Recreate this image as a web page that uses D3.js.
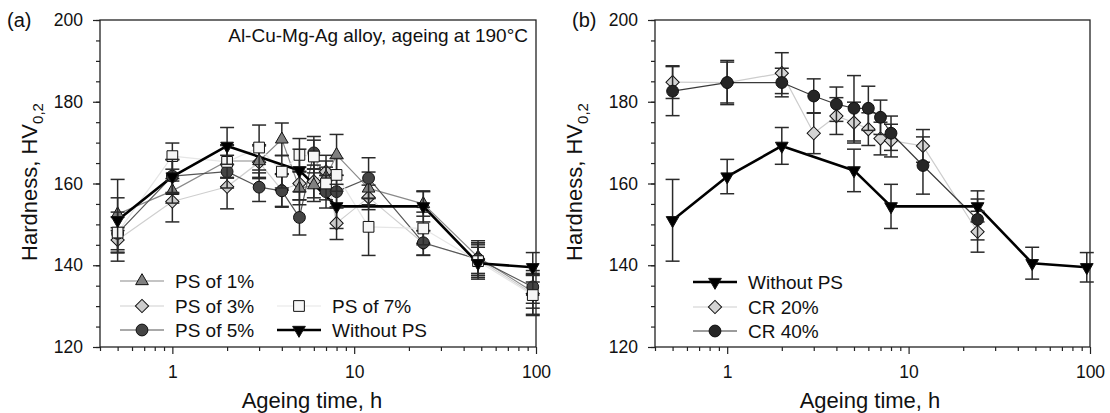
<!DOCTYPE html>
<html>
<head>
<meta charset="utf-8">
<script src="https://cdn.jsdelivr.net/npm/d3@7/dist/d3.min.js"></script>
<style>
  body { margin: 0; background: #fff; }
  text { font-family: "Liberation Sans", Arial, sans-serif; fill: #111; }
</style>
</head>
<body>
<svg id="chart" width="1110" height="413"></svg>
<script>
// ageing times (h)
var timesPS = [0.5, 1, 2, 3, 4, 5, 6, 7, 8, 12, 24, 48, 96];
var timesRef = [0.5, 1, 2, 5, 8, 24, 48, 96];
var timesCR = [0.5, 1, 2, 3, 4, 5, 6, 7, 8, 12, 24];

// hardness HV0,2 and error (+/-)
var ps1 = [152.5, 158.2, 165.5, 165.5, 170.8, 158.8, 159.6, 161.5, 167.0, 158.8, 155.0, 142.0, 133.5];
var ps1Err = [4, 3, 4, 4, 4, 4, 4, 4, 5, 4, 3, 4, 4];
var ps3 = [146.2, 155.6, 159.2, 165.2, 158.4, 160.0, 160.5, 162.9, 150.3, 156.6, 145.4, 141.5, 133.0];
var ps3Err = [3, 5, 5.4, 4, 4, 4, 4, 4, 4, 3, 3, 4, 5];
var ps5 = [147.8, 161.8, 162.9, 159.1, 158.2, 151.7, 167.5, 158.0, 158.0, 161.3, 145.5, 141.5, 134.7];
var ps5Err = [4, 4, 4, 3.5, 4, 4.3, 4, 4, 4, 5, 3, 4, 4];
var ps7 = [148.0, 166.7, 165.3, 168.8, 162.9, 167.0, 166.6, 160.0, 162.1, 149.4, 149.0, 141.0, 132.7];
var ps7Err = [5, 3.2, 4, 5.5, 4, 4, 4, 4, 4, 7, 4, 4, 5];
var noPS = [151.0, 161.7, 169.2, 163.2, 154.4, 154.4, 140.5, 139.5];
var noPSErr = [10, 4.2, 4.5, 5.2, 5.4, 3.8, 3.9, 3.6];
var cr20 = [184.8, 184.7, 187.0, 172.3, 176.5, 174.9, 173.3, 171.0, 170.5, 169.2, 148.2];
var cr20Err = [4, 5, 5, 5, 4.5, 5, 4, 4, 4, 4, 5];
var cr40 = [182.6, 184.7, 184.7, 181.4, 179.4, 178.4, 178.4, 176.2, 172.3, 164.4, 151.2];
var cr40Err = [6, 5.4, 3.5, 4.2, 4.2, 8, 5.4, 4.2, 4.2, 7, 5];

// axis ticks
var yMajor = [120, 140, 160, 180, 200];
var yMinor = d3.range(120, 201, 5);
var xMajor = [1, 10, 100];
var xMinor = [0.4, 0.5, 0.6, 0.7, 0.8, 0.9, 2, 3, 4, 5, 6, 7, 8, 9, 20, 30, 40, 50, 60, 70, 80, 90];

var svg = d3.select("#chart");

// marker styles
var styles = {
  ps1: { sym: "triUp", fill: "#808080", line: "#8a8a8a", lw: 1.2 },
  ps3: { sym: "diamond", fill: "#cccccc", line: "#cfcfcf", lw: 1.2 },
  ps5: { sym: "circle", fill: "#444444", line: "#555555", lw: 1.2 },
  ps7: { sym: "square", fill: "#f6f6f6", line: "#e6e6e6", lw: 1.2 },
  noPS: { sym: "triDown", fill: "#000000", line: "#000000", lw: 2.6 },
  cr20: { sym: "diamond", fill: "#d4d4d4", line: "#cdcdcd", lw: 1.2 },
  cr40: { sym: "circle", fill: "#262626", line: "#3a3a3a", lw: 1.2 }
};

function symPath(kind) {
  if (kind == "triUp" || kind == "triDown") return d3.symbol().type(d3.symbolTriangle).size(70)();
  if (kind == "diamond") return d3.symbol().type(d3.symbolSquare).size(88)();
  if (kind == "square") return d3.symbol().type(d3.symbolSquare).size(115)();
  return d3.symbol().type(d3.symbolCircle).size(110)();
}
function symRotate(kind) {
  if (kind == "triDown") return " rotate(180)";
  if (kind == "diamond") return " rotate(45)";
  return "";
}

function drawMarker(g, x, y, st) {
  g.append("path")
    .attr("d", symPath(st.sym))
    .attr("transform", "translate(" + x + "," + y + ")" + symRotate(st.sym))
    .attr("fill", st.fill)
    .attr("stroke", "#111")
    .attr("stroke-width", 1);
}

function panel(p) {
  var x = d3.scaleLog().domain([0.4, 100]).range([p.left, p.right]);
  var y = d3.scaleLinear().domain([120, 200]).range([p.bottom, p.top]);
  var g = svg.append("g");

  // axes
  g.append("g").attr("transform", "translate(0," + p.bottom + ")")
    .call(d3.axisBottom(x).tickValues(xMinor).tickSize(4).tickFormat(""))
    .call(function (a) { a.select(".domain").remove(); });
  g.append("g").attr("transform", "translate(0," + p.bottom + ")")
    .call(d3.axisBottom(x).tickValues(xMajor).tickSize(7).tickPadding(12).tickFormat(d3.format("d")))
    .call(function (a) { a.select(".domain").remove(); });
  g.append("g").attr("transform", "translate(" + p.left + ",0)")
    .call(d3.axisLeft(y).tickValues(yMinor).tickSize(4).tickFormat(""))
    .call(function (a) { a.select(".domain").remove(); });
  g.append("g").attr("transform", "translate(" + p.left + ",0)")
    .call(d3.axisLeft(y).tickValues(yMajor).tickSize(7).tickPadding(10))
    .call(function (a) { a.select(".domain").remove(); });
  g.selectAll(".tick line").attr("stroke", "#222").attr("stroke-width", 1.2);
  g.selectAll(".tick text").style("font-size", "17.5px").attr("fill", "#111")
    .style("font-family", '"Liberation Sans", Arial, sans-serif');

  g.append("rect")
    .attr("x", p.left).attr("y", p.top)
    .attr("width", p.right - p.left).attr("height", p.bottom - p.top)
    .attr("fill", "none").attr("stroke", "#222").attr("stroke-width", 1.3);

  // labels
  g.append("text").attr("x", p.labelX).attr("y", 27).style("font-size", "20px").text(p.label);
  g.append("text").attr("x", p.xTitleX).attr("y", 408).attr("text-anchor", "middle")
    .style("font-size", "22px").text("Ageing time, h");
  var yt = g.append("text").attr("transform", "translate(" + p.yTitleX + ",182) rotate(-90)")
    .attr("text-anchor", "middle").style("font-size", "22px");
  yt.append("tspan").text("Hardness, HV");
  yt.append("tspan").attr("dy", 6).style("font-size", "15px").text("0,2");

  // series
  var line = d3.line().x(function (d) { return x(d[0]); }).y(function (d) { return y(d[1]); });
  p.series.forEach(function (s) {
    var pts = s.t.map(function (t, i) { return [t, s.v[i]]; });
    g.append("path").attr("d", line(pts)).attr("fill", "none")
      .attr("stroke", s.st.line).attr("stroke-width", s.st.lw).attr("stroke-linejoin", "round");
  });
  p.series.forEach(function (s) {
    var eb = g.append("g").attr("stroke", "#2a2a2a").attr("stroke-width", 1.5);
    s.t.forEach(function (t, i) {
      var cx = x(t), y1 = y(s.v[i] + s.e[i]), y2 = y(s.v[i] - s.e[i]);
      eb.append("line").attr("x1", cx).attr("x2", cx).attr("y1", y1).attr("y2", y2);
      eb.append("line").attr("x1", cx - 7).attr("x2", cx + 7).attr("y1", y1).attr("y2", y1);
      eb.append("line").attr("x1", cx - 7).attr("x2", cx + 7).attr("y1", y2).attr("y2", y2);
    });
    s.t.forEach(function (t, i) { drawMarker(g, x(t), y(s.v[i]), s.st); });
  });

  // legend
  p.legend.forEach(function (L) {
    var st = styles[L.key];
    g.append("line").attr("x1", L.x).attr("x2", L.x + 44).attr("y1", L.y).attr("y2", L.y)
      .attr("stroke", st.line).attr("stroke-width", st.lw);
    drawMarker(g, L.x + 22, L.y, st);
    g.append("text").attr("x", L.x + 55).attr("y", L.y + 7).style("font-size", "19px").text(L.name);
  });
  return g;
}

var left = panel({
  left: 100, right: 536, top: 20, bottom: 347,
  label: "(a)", labelX: 7, xTitleX: 312, yTitleX: 37,
  series: [
    { t: timesPS, v: ps3, e: ps3Err, st: styles.ps3 },
    { t: timesPS, v: ps1, e: ps1Err, st: styles.ps1 },
    { t: timesPS, v: ps5, e: ps5Err, st: styles.ps5 },
    { t: timesPS, v: ps7, e: ps7Err, st: styles.ps7 },
    { t: timesRef, v: noPS, e: noPSErr, st: styles.noPS }
  ],
  legend: [
    { key: "ps1", name: "PS of 1%", x: 120, y: 281 },
    { key: "ps3", name: "PS of 3%", x: 120, y: 306 },
    { key: "ps5", name: "PS of 5%", x: 120, y: 330 },
    { key: "ps7", name: "PS of 7%", x: 277, y: 306 },
    { key: "noPS", name: "Without PS", x: 277, y: 330 }
  ]
});
left.append("text").attr("x", 528).attr("y", 42).attr("text-anchor", "end")
  .style("font-size", "19px").text("Al-Cu-Mg-Ag alloy, ageing at 190°C");

panel({
  left: 655, right: 1090, top: 20, bottom: 347,
  label: "(b)", labelX: 572, xTitleX: 870, yTitleX: 582,
  series: [
    { t: timesCR, v: cr20, e: cr20Err, st: styles.cr20 },
    { t: timesCR, v: cr40, e: cr40Err, st: styles.cr40 },
    { t: timesRef, v: noPS, e: noPSErr, st: styles.noPS }
  ],
  legend: [
    { key: "noPS", name: "Without PS", x: 693, y: 282 },
    { key: "cr20", name: "CR 20%", x: 693, y: 307 },
    { key: "cr40", name: "CR 40%", x: 693, y: 331 }
  ]
});
</script>
</body>
</html>
